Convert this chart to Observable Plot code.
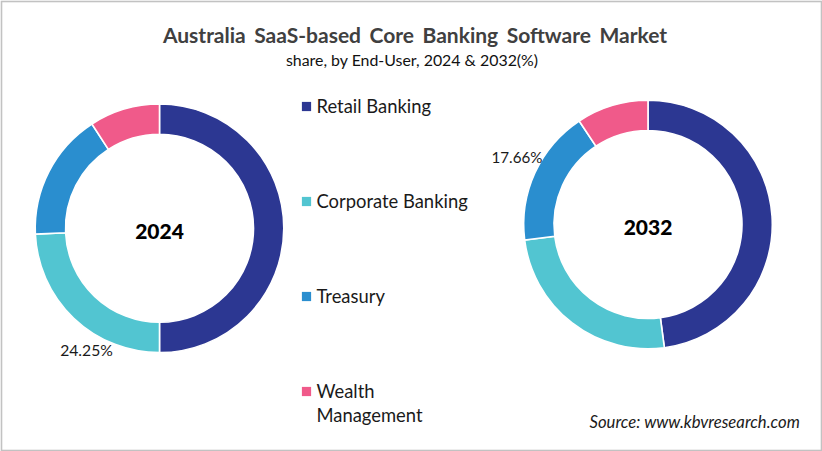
<!DOCTYPE html>
<html>
<head>
<meta charset="utf-8">
<script src="https://cdn.jsdelivr.net/npm/d3@7"></script>
<script src="https://cdn.jsdelivr.net/npm/@observablehq/plot@0.6"></script>
<style>
html,body{margin:0;padding:0;background:#fff;}
svg{display:block;}
</style>
</head>
<body>
<div id="chart"></div>
<script>
const categories = ["Retail Banking", "Corporate Banking", "Treasury", "Wealth Management"];
const shares2024 = [50.0, 24.25, 16.6, 9.15];
const shares2032 = [47.9, 25.1, 17.66, 9.34];
const years = ["2024", "2032"];
const colors = ["#2c3792", "#52c5d1", "#2a8ecf", "#f05a8a"];
const titleText = "Australia SaaS-based Core Banking Software Market";
const subtitleText = "share, by End-User, 2024 & 2032(%)";
const sourceText = "Source: www.kbvresearch.com";
const font = "Lato, 'Open Sans', sans-serif";

const centers = {"2024": [159.5, 228.3], "2032": [648, 224.5]};
const angle = d3.scaleLinear([0, 100], [0, 2 * Math.PI]);
const arc = d3.arc().innerRadius(94).outerRadius(124.3);

function rows(year, shares) {
  let sum = 0;
  return categories.map((category, i) => {
    const start = sum;
    sum += shares[i];
    return {year, category, start, end: sum, x: centers[year][0], y: centers[year][1]};
  });
}
const slices = [...rows("2024", shares2024), ...rows("2032", shares2032)];

// Each slice takes its centre from the x/y scales and its fill from the color scale.
function ringRender(index, scales, values) {
  const g = d3.create("svg:g");
  for (const i of index) {
    const d = slices[i];
    g.append("path")
      .attr("transform", `translate(${values.x[i]},${values.y[i]})`)
      .attr("d", arc({startAngle: angle(d.start), endAngle: angle(d.end)}))
      .attr("fill", values.fill[i])
      .attr("stroke", "#fff")
      .attr("stroke-width", 1.6);
  }
  return g.node();
}

const legendRows = [
  {category: categories[0], y: 106},
  {category: categories[1], y: 201},
  {category: categories[2], y: 296},
  {category: categories[3], y: 391}
];
const legendLabels = [
  {text: "Retail Banking", y: 106.6},
  {text: "Corporate Banking", y: 201.6},
  {text: "Treasury", y: 296.6},
  {text: "Wealth", y: 391.6},
  {text: "Management", y: 415.6}
];

const chart = Plot.plot({
  width: 822,
  height: 451,
  margin: 0,
  style: {fontFamily: font, background: "#fff"},
  x: {type: "identity", axis: null},
  y: {type: "identity", axis: null},
  color: {domain: categories, range: colors},
  marks: [
    Plot.frame({stroke: "#c2c2c2", strokeWidth: 1.6, inset: 1}),
    Plot.dot(slices, {x: "x", y: "y", fill: "category", render: ringRender}),
    Plot.text(years, {
      x: d => centers[d][0] - 0.5, y: d => centers[d][1] + 3, text: d => d,
      fontSize: 21, fontWeight: 900, fill: "#000"
    }),
    Plot.text([titleText], {
      x: () => 414.5, y: () => 36, text: d => d,
      fontSize: 21, fontWeight: 700, fill: "#404040", className: "chart-title"
    }),
    Plot.text([subtitleText], {
      x: () => 411.5, y: () => 60, text: d => d,
      fontSize: 15.9, fill: "#111"
    }),
    Plot.dot(legendRows, {
      x: () => 306, y: "y", fill: "category", symbol: "square", r: 5.2
    }),
    Plot.text(legendLabels, {
      x: () => 316, y: "y", text: "text", textAnchor: "start",
      fontSize: 18.4, fill: "#1a1a1a"
    }),
    Plot.text(["24.25%"], {x: () => 86, y: () => 350, text: d => d, fontSize: 15.7, fill: "#1a1a1a"}),
    Plot.text(["17.66%"], {x: () => 516.5, y: () => 158, text: d => d, fontSize: 15.2, fill: "#1a1a1a"}),
    Plot.text([sourceText], {
      x: () => 589, y: () => 422, text: d => d, textAnchor: "start",
      fontSize: 16.7, fontStyle: "italic", fill: "#1a1a1a"
    })
  ]
});
d3.select(chart).selectAll("text").filter(function () { return this.textContent === titleText; })
  .style("word-spacing", "3.4px");
document.getElementById("chart").appendChild(chart);
</script>
</body>
</html>
